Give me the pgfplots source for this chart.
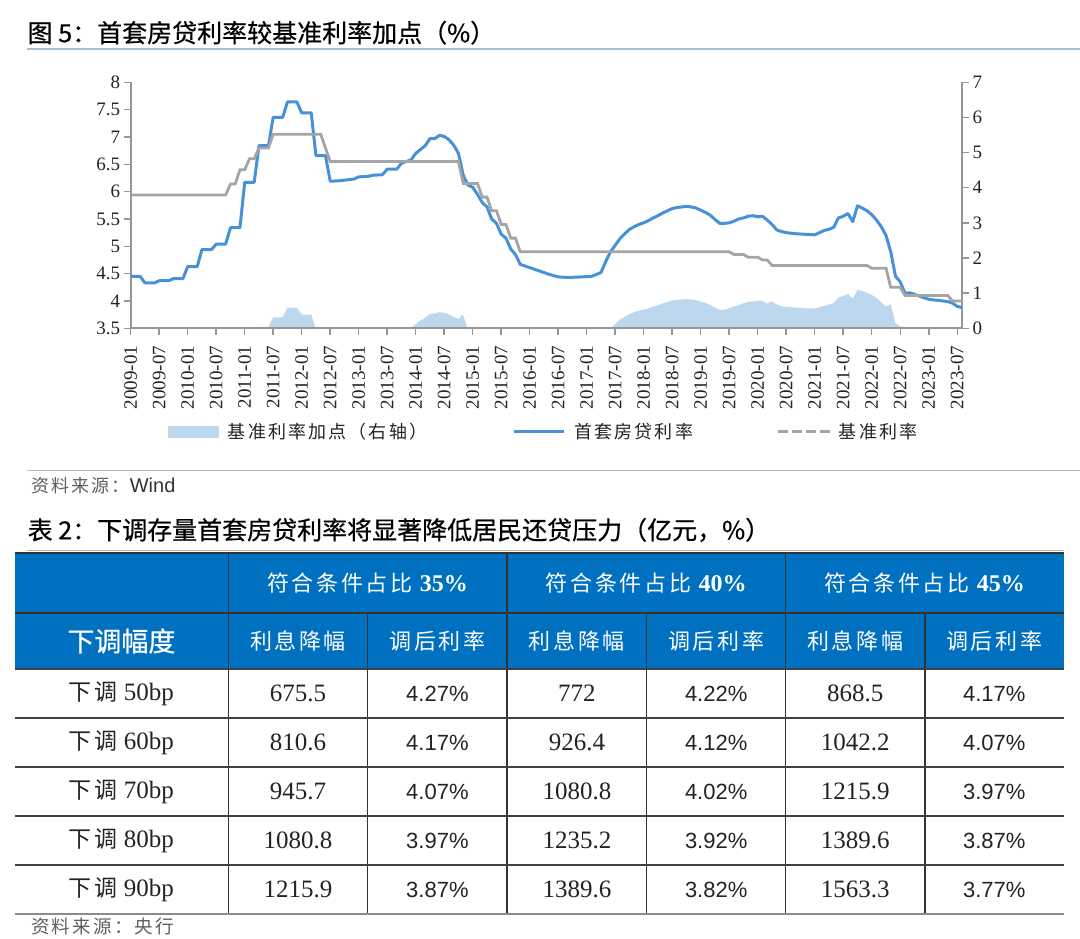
\documentclass[border=0pt]{standalone}
\usepackage{pgfplots}
\pgfplotsset{compat=1.18}
\usepackage{fontspec}
\setmainfont{Liberation Serif}
\newfontfamily\cjk{Noto Sans CJK SC}
\newfontfamily\cjkt{Noto Sans CJK SC}[FakeBold=0.6]
\newfontfamily\cjks{Noto Sans CJK SC}[LetterSpace=12]
\newfontfamily\tnr{Liberation Serif}
\newfontfamily\arial{Liberation Sans}
\newcommand\fs[1]{\fontsize{#1}{#1}\selectfont}

\definecolor{bluel}{RGB}{70,145,215}
\definecolor{grayl}{RGB}{165,165,165}
\definecolor{areab}{RGB}{189,215,238}
\definecolor{axg}{RGB}{150,150,150}
\definecolor{hdr}{RGB}{0,112,192}
\definecolor{rulec}{RGB}{172,190,215}
\definecolor{txt}{RGB}{35,35,35}
\definecolor{src}{RGB}{95,95,95}

\begin{document}
\begin{tikzpicture}
\useasboundingbox (0pt,0pt) rectangle (1080pt,-938pt);

% ---- figure title
\node[anchor=west, inner sep=0pt, font=\cjkt\fs{25}] at (27.5pt,-32.7pt) {图 5：首套房贷利率较基准利率加点（\%）};
\draw[rulec, line width=1.6pt] (27pt,-49.2pt) -- (1080pt,-49.2pt);

% ---- right axis: spread (area)
\begin{axis}[
  at={(130.7pt,-328.3pt)}, anchor=south west,
  scale only axis, width=831.3pt, height=246pt,
  xmin=0, xmax=175, ymin=0, ymax=7,
  axis x line=none, axis y line*=right,
  axis line style={draw=axg, line width=1.8pt},
  tick style={draw=axg, line width=1.5pt},
  tick align=outside, major tick length=7pt,
  ytick={0,1,...,7},
  yticklabel style={font=\tnr\fs{19}, text=txt},
  /pgf/number format/assume math mode=true,
]
\addplot[fill=areab, draw=none] coordinates {
(0,0) (26,0) (27,0.04) (29,0.04) (30,0.31) (32,0.31) (33,0.59) (35,0.59)
(36,0.39) (38,0.39) (39,0) (59,0) (60,0.12) (61,0.22) (62,0.30) (63,0.41)
(64,0.42) (65,0.46) (66,0.44) (67,0.40) (68,0.32) (69,0.26) (69.9,0.40)
(70.7,0.10) (71,0) (101,0) (102,0.12) (103,0.25) (104,0.33) (105,0.40)
(106,0.46) (107,0.50) (108,0.53) (109,0.57) (110,0.62) (111,0.66) (112,0.71)
(113,0.75) (114,0.79) (115,0.81) (116,0.82) (117,0.83) (118,0.82) (119,0.80)
(120,0.76) (121,0.72) (122,0.67) (123,0.59) (124,0.52) (125,0.53) (126,0.57)
(127,0.62) (128,0.66) (129,0.71) (130,0.75) (131,0.76) (132,0.79) (133,0.78)
(133.9,0.70) (134.9,0.77) (136,0.68) (137,0.63) (138,0.61) (140,0.59)
(142,0.57) (144,0.57) (145,0.60) (146,0.64) (147,0.68) (148,0.72) (149,0.87)
(150,0.92) (151,0.98) (152,0.85) (153,1.09) (154,1.06) (155,1.01) (156,0.95)
(157,0.87) (158,0.74) (159,0.62) (160,0.68) (161,0.15) (162,0.05) (163,0.04)
(164,0.03) (165,0) (175,0)
} \closedcycle;
\end{axis}

% ---- left axis: rates
\begin{axis}[
  at={(130.7pt,-328.3pt)}, anchor=south west,
  scale only axis, width=831.3pt, height=246pt,
  xmin=0, xmax=175, ymin=3.5, ymax=8,
  axis x line*=bottom, axis y line*=left,
  axis line style={draw=axg, line width=1.8pt},
  tick style={draw=axg, line width=1.5pt},
  tick align=outside, major tick length=7pt,
  ytick={3.5,4,4.5,5,5.5,6,6.5,7,7.5,8},
  yticklabel style={font=\tnr\fs{19}, text=txt},
  /pgf/number format/assume math mode=true,
  xtick={0,6,...,174},
  xticklabels={2009-01,2009-07,2010-01,2010-07,2011-01,2011-07,2012-01,2012-07,
    2013-01,2013-07,2014-01,2014-07,2015-01,2015-07,2016-01,2016-07,2017-01,
    2017-07,2018-01,2018-07,2019-01,2019-07,2020-01,2020-07,2021-01,2021-07,
    2022-01,2022-07,2023-01,2023-07},
  xticklabel style={font=\tnr\fs{19}, text=txt, rotate=90, anchor=east},
  xticklabel shift=7pt,
  legend columns=3,
  legend style={draw=none, fill=none, inner sep=0pt,
    at={(axis description cs:0.0452,-0.4203)}, anchor=west,
    font=\cjks\fs{18}, text=txt,
    /tikz/column 2/.style={column sep=83pt},
    /tikz/column 4/.style={column sep=81pt}},
]
\addlegendimage{legend image code/.code={\fill[areab] (0pt,-5.6pt) rectangle (50pt,5.6pt);
  \path (57pt,0pt);}}
\addlegendentry{基准利率加点（右轴）}
\addplot[bluel, line width=3pt, line join=round,
  legend image code/.code={\draw[bluel, line width=3pt] (0pt,0pt) -- (50pt,0pt);
  \path (57pt,0pt);}]
coordinates {
(0,4.45) (2,4.45) (3,4.33) (5,4.33) (6,4.37) (8,4.37) (9,4.41) (11,4.41)
(12,4.63) (14,4.63) (15,4.94) (17,4.94) (18,5.04) (20,5.04) (21,5.34) (23,5.34)
(24,6.17) (26,6.17) (27,6.84) (29,6.84) (30,7.36) (32,7.36) (33,7.64) (35,7.64)
(36,7.44) (38,7.44) (39,6.66) (41,6.66) (42,6.19) (44,6.20) (45,6.21) (47,6.23)
(48,6.27) (50,6.28) (51,6.30) (53,6.31) (54,6.41) (56,6.41) (57,6.52) (58,6.55)
(59,6.58) (60,6.70) (61,6.77) (62,6.84) (63,6.97) (64,6.97) (65,7.03) (66,7.01)
(67,6.95) (68,6.85) (69,6.70) (70,6.30) (71,6.12) (72,6.08) (73,5.95) (74,5.80)
(75,5.72) (76,5.50) (77,5.42) (78,5.22) (79,5.15) (80,4.95) (81,4.85) (82,4.67)
(84,4.61) (86,4.55) (88,4.49) (90,4.44) (92,4.43) (95,4.44) (97,4.45) (99,4.52)
(100,4.72) (101,4.90) (102,5.02) (103,5.14) (104,5.23) (105,5.31) (106,5.36)
(107,5.40) (108,5.43) (109,5.47) (110,5.52) (111,5.56) (112,5.61) (113,5.65)
(114,5.69) (115,5.71) (116,5.72) (117,5.73) (118,5.72) (119,5.70) (120,5.66)
(121,5.62) (122,5.57) (123,5.49) (124,5.42) (125,5.42) (126,5.43) (127,5.46)
(128,5.50) (129,5.52) (130,5.55) (131,5.56) (132,5.54) (133,5.55) (134,5.48)
(135,5.40) (136,5.30) (137,5.27) (138,5.25) (140,5.23) (142,5.22) (144,5.21)
(145,5.25) (146,5.29) (147,5.31) (148,5.35) (149,5.52) (150,5.55) (151,5.60)
(152,5.45) (153,5.74) (154,5.70) (155,5.65) (156,5.58) (157,5.48) (158,5.36)
(159,5.20) (160,4.90) (161,4.45) (162,4.35) (163,4.14) (164,4.15) (165,4.12)
(166,4.09) (167,4.06) (168,4.03) (169,4.02) (170,4.01) (171,4.00) (172,3.99)
(173,3.96) (174,3.90) (175,3.88)
};
\addlegendentry{首套房贷利率}
\addplot[grayl, line width=2.8pt,
  legend image code/.code={\draw[grayl, line width=2.8pt, dash pattern=on 10pt off 4pt] (0pt,0pt) -- (52pt,0pt);
  \path (58pt,0pt);}]
coordinates {
(0,5.94) (20,5.94) (21,6.14) (22,6.14) (23,6.40) (24,6.40) (25,6.60) (26,6.60)
(27,6.80) (29,6.80) (30,7.05) (40,7.05) (41,6.80) (42,6.55) (69,6.55) (70,6.15)
(73,6.15) (74,5.90) (75,5.90) (76,5.65) (77,5.65) (78,5.40) (79,5.40) (80,5.15)
(81,5.15) (82,4.90) (126,4.90) (127,4.85) (129,4.85) (130,4.80) (132,4.80)
(133,4.75) (134,4.75) (135,4.65) (155,4.65) (156,4.60) (159,4.60) (160,4.25)
(162,4.25) (163,4.10) (172,4.10) (173,4.00) (175,4.00)
};
\addlegendentry{基准利率}
\end{axis}

% ---- source line of the figure
\draw[rulec, line width=1.2pt] (27pt,-470.3pt) -- (1080pt,-470.3pt);
\node[anchor=west, inner sep=0pt, text=src] at (31pt,-486pt) {{\cjks\fs{18}资料来源：}{\arial\fs{20}\color{black!80}Wind}};

% ---- table title
\node[anchor=west, inner sep=0pt, font=\cjkt\fs{25}] at (27.5pt,-530pt) {表 2：下调存量首套房贷利率将显著降低居民还贷压力（亿元，\%）};
\draw[black!30, line width=1pt] (27pt,-550.5pt) -- (1063.5pt,-550.5pt);

% ---- table header
\fill[hdr] (14.5pt,-553pt) rectangle (1063.5pt,-669pt);
\draw[black!80, line width=1.3pt] (14.5pt,-553pt) -- (1063.5pt,-553pt);
\draw[black!80, line width=1.3pt] (14.5pt,-613pt) -- (1063.5pt,-613pt);
\foreach \xx in {228.3,506.9,785.5}
  \draw[black!80, line width=1.3pt] (\xx pt,-553pt) -- (\xx pt,-613pt);
\foreach \xx in {228.3,367.8,506.9,646.8,785.5,925}
  \draw[black!80, line width=1.3pt] (\xx pt,-613pt) -- (\xx pt,-914pt);
\foreach \yy in {669,718,767,816,865}
  \draw[black!75, line width=1.3pt] (14.5pt,-\yy pt) -- (1063.5pt,-\yy pt);
\draw[black!45, line width=2pt] (14.5pt,-914pt) -- (1063.5pt,-914pt);

\foreach \xx/\pp in {367.6/35,646.2/40,924.5/45}
  \node[text=white, font=\cjks\fs{22}] at (\xx pt,-583pt) {符合条件占比 {\tnr\bfseries\fs{24}\pp\%}};
\node[text=white, font=\cjkt\fs{27}] at (121.4pt,-641pt) {下调幅度};
\foreach \xx in {298,576.9,855.3}
  \node[text=white, font=\cjks\fs{22}] at (\xx pt,-641pt) {利息降幅};
\foreach \xx in {437.4,716.2,994.3}
  \node[text=white, font=\cjks\fs{22}] at (\xx pt,-641pt) {调后利率};

% ---- table body
\foreach \ya/\lab/\va/\pa/\vb/\pb/\vc/\pc in {
  693.5/50/675.5/4.27/772/4.22/868.5/4.17,
  742.5/60/810.6/4.17/926.4/4.12/1042.2/4.07,
  791.5/70/945.7/4.07/1080.8/4.02/1215.9/3.97,
  840.5/80/1080.8/3.97/1235.2/3.92/1389.6/3.87,
  889.5/90/1215.9/3.87/1389.6/3.82/1563.3/3.77} {
  \node[text=txt] at (121.4pt,-\ya pt) {{\cjks\fs{23}下调}{\tnr\fs{25} \lab bp}};
  \node[text=txt, font=\tnr\fs{25}] at (298pt,-\ya pt) {\va};
  \node[text=txt, font=\arial\fs{22}] at (437.4pt,-\ya pt) {\pa\%};
  \node[text=txt, font=\tnr\fs{25}] at (576.9pt,-\ya pt) {\vb};
  \node[text=txt, font=\arial\fs{22}] at (716.2pt,-\ya pt) {\pb\%};
  \node[text=txt, font=\tnr\fs{25}] at (855.3pt,-\ya pt) {\vc};
  \node[text=txt, font=\arial\fs{22}] at (994.3pt,-\ya pt) {\pc\%};
}

\node[anchor=west, inner sep=0pt, text=src, font=\cjks\fs{18.5}] at (31pt,-926pt) {资料来源：央行};
\end{tikzpicture}
\end{document}
